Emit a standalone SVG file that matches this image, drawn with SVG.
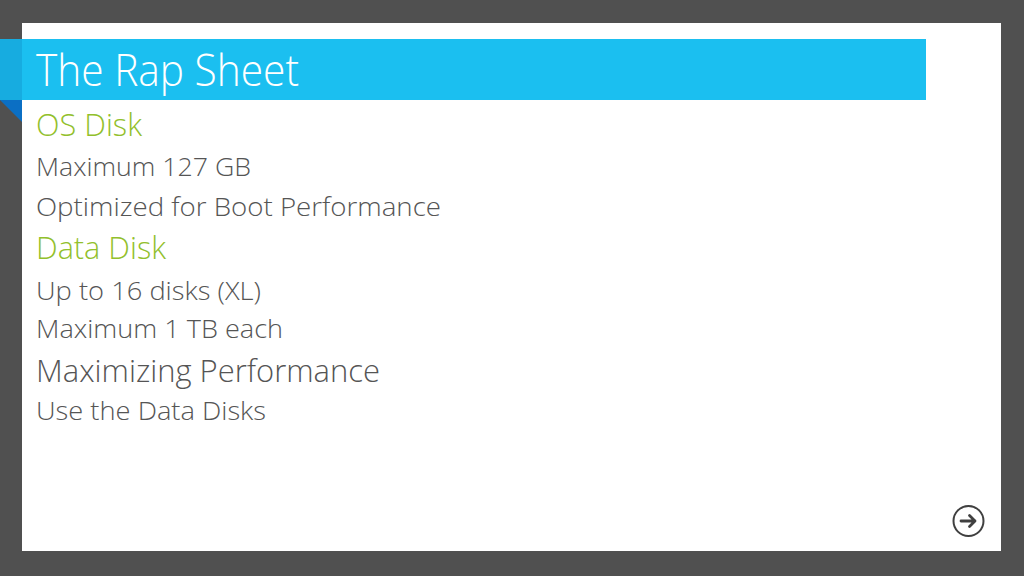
<svg xmlns="http://www.w3.org/2000/svg" width="1024" height="576" viewBox="0 0 1024 576">
  <style>
    .t { font-family: "Open Sans", "Liberation Sans", sans-serif; font-weight: 300; }
    .title { fill: #ffffff; font-size: 45px; }
    .head { fill: #92c02c; font-size: 31px; }
    .body { fill: #555555; font-size: 26px; }
    .sub { fill: #555555; font-size: 31px; }
  </style>
  <rect x="0" y="0" width="1024" height="576" fill="#505050"/>
  <rect x="22" y="23" width="979" height="528" fill="#ffffff"/>
  <g id="title-bar">
    <rect x="0" y="39" width="926" height="61" fill="#1bbff0"/>
    <rect x="0" y="39" width="22" height="61" fill="#17ace0"/>
    <polygon points="0,100 22,100 22,122" fill="#0b6fc4"/>
    <text class="t title" x="36" y="86" textLength="263" lengthAdjust="spacingAndGlyphs">The Rap Sheet</text>
  </g>
  <g id="content">
    <text class="t head" x="36" y="136" textLength="106" lengthAdjust="spacingAndGlyphs">OS Disk</text>
    <text class="t body" x="36" y="176" textLength="215" lengthAdjust="spacingAndGlyphs">Maximum 127 GB</text>
    <text class="t body" x="36" y="216" textLength="405" lengthAdjust="spacingAndGlyphs">Optimized for Boot Performance</text>
    <text class="t head" x="36" y="259" textLength="130" lengthAdjust="spacingAndGlyphs">Data Disk</text>
    <text class="t body" x="36" y="300" textLength="225" lengthAdjust="spacingAndGlyphs">Up to 16 disks (XL)</text>
    <text class="t body" x="36" y="338" textLength="247" lengthAdjust="spacingAndGlyphs">Maximum 1 TB each</text>
    <text class="t sub" x="36" y="382" textLength="344" lengthAdjust="spacingAndGlyphs">Maximizing Performance</text>
    <text class="t body" x="36" y="420" textLength="230" lengthAdjust="spacingAndGlyphs">Use the Data Disks</text>
  </g>
  <g id="next-button">
    <circle cx="968.5" cy="521" r="15" fill="none" stroke="#404040" stroke-width="2"/>
    <path d="M961,521 H975 M969.5,515.5 L975,521 L969.5,526.5" fill="none" stroke="#404040" stroke-width="2.8" stroke-linecap="round" stroke-linejoin="round"/>
  </g>
</svg>
